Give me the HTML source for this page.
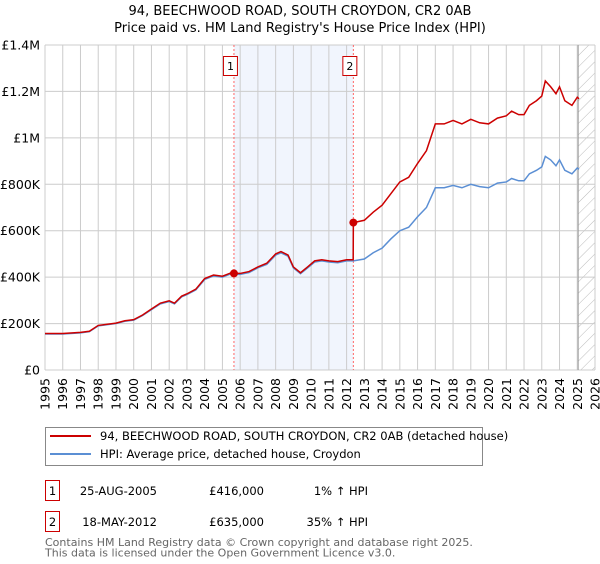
<!DOCTYPE html>
<html><head><meta charset="utf-8">
<style>
body{margin:0;background:#fff;font-family:"DejaVu Sans","Liberation Sans",sans-serif;}
svg text{font-family:"DejaVu Sans","Liberation Sans",sans-serif;}
</style></head>
<body>
<svg id="chart" width="600" height="560" xmlns="http://www.w3.org/2000/svg">
<defs>
<pattern id="hatch" patternUnits="userSpaceOnUse" width="8" height="8" patternTransform="rotate(45)">
<line x1="0" y1="0" x2="0" y2="8" stroke="#bbb" stroke-width="1"/>
</pattern>
</defs>
<text x="300" y="15" font-size="13" text-anchor="middle">94, BEECHWOOD ROAD, SOUTH CROYDON, CR2 0AB</text>
<text x="300" y="32" font-size="13" text-anchor="middle">Price paid vs. HM Land Registry's House Price Index (HPI)</text>
<g id="plot"></g>
<g>
<rect x="45.5" y="427.5" width="437" height="38" fill="#fff" stroke="#888"/>
<line x1="50" y1="436" x2="91" y2="436" stroke="#cc0000" stroke-width="2"/>
<text x="100" y="440" font-size="11.5">94, BEECHWOOD ROAD, SOUTH CROYDON, CR2 0AB (detached house)</text>
<line x1="50" y1="454" x2="91" y2="454" stroke="#5b8fd4" stroke-width="2"/>
<text x="100" y="458" font-size="11.5">HPI: Average price, detached house, Croydon</text>
</g>
<g font-size="11.5">
<rect x="45.5" y="480.5" width="14" height="20" fill="#fff" stroke="#cc0000"/>
<text x="52.5" y="495" text-anchor="middle">1</text>
<text x="157" y="495" text-anchor="end">25-AUG-2005</text>
<text x="264" y="495" text-anchor="end">£416,000</text>
<text x="368" y="495" text-anchor="end">1% ↑ HPI</text>
<rect x="45.5" y="511.5" width="14" height="20" fill="#fff" stroke="#cc0000"/>
<text x="52.5" y="526" text-anchor="middle">2</text>
<text x="157" y="526" text-anchor="end">18-MAY-2012</text>
<text x="264" y="526" text-anchor="end">£635,000</text>
<text x="368" y="526" text-anchor="end">35% ↑ HPI</text>
</g>
<text x="45" y="546" font-size="11" fill="#666">Contains HM Land Registry data © Crown copyright and database right 2025.</text>
<text x="45" y="556.5" font-size="11" fill="#666">This data is licensed under the Open Government Licence v3.0.</text>
</svg>
<script>
const hpiYears=[1995,1996,1997,1997.5,1998,1999,1999.5,2000,2000.5,2001,2001.5,2002,2002.3,2002.7,2003,2003.5,2004,2004.5,2005,2005.5,2005.65,2006,2006.5,2007,2007.5,2008,2008.3,2008.7,2009,2009.4,2009.8,2010.2,2010.6,2011,2011.5,2012,2012.38,2013,2013.5,2014,2014.5,2015,2015.5,2016,2016.5,2017,2017.5,2018,2018.5,2019,2019.5,2020,2020.5,2021,2021.3,2021.7,2022,2022.3,2022.7,2023,2023.2,2023.5,2023.8,2024,2024.3,2024.7,2025,2025.1];
const hpiValues=[155,155,160,165,190,200,210,215,235,260,285,295,285,315,325,345,390,405,400,415,412,412,420,440,455,495,505,490,440,415,440,465,470,465,462,470,470,478,505,525,565,600,615,660,700,785,785,795,785,800,790,785,805,810,825,815,815,845,860,875,920,905,880,905,860,845,870,865];
const priceYears=[1995,1996,1997,1997.5,1998,1999,1999.5,2000,2000.5,2001,2001.5,2002,2002.3,2002.7,2003,2003.5,2004,2004.5,2005,2005.5,2005.65,2006,2006.5,2007,2007.5,2008,2008.3,2008.7,2009,2009.4,2009.8,2010.2,2010.6,2011,2011.5,2012,2012.37,2012.38,2013,2013.5,2014,2014.5,2015,2015.5,2016,2016.5,2017,2017.5,2018,2018.5,2019,2019.5,2020,2020.5,2021,2021.3,2021.7,2022,2022.3,2022.7,2023,2023.2,2023.5,2023.8,2024,2024.3,2024.7,2025,2025.1];
const priceValues=[157,157,162,167,192,202,212,217,237,263,288,298,288,318,328,348,394,409,404,419,416,416,424,444,460,500,510,495,444,419,444,470,475,470,467,475,475,635,645,680,710,760,810,830,890,945,1060,1060,1075,1060,1080,1065,1060,1085,1095,1115,1100,1100,1140,1160,1180,1245,1220,1190,1220,1160,1140,1175,1168];
const saleYears=[2005.65,2012.38];
const saleValues=[416,635];
const saleLabels=["1","2"];
const yTicks=[0,200,400,600,800,1000,1200,1400];
const yTickLabels=["£0","£200K","£400K","£600K","£800K","£1M","£1.2M","£1.4M"];
const xTicks=[1995,1996,1997,1998,1999,2000,2001,2002,2003,2004,2005,2006,2007,2008,2009,2010,2011,2012,2013,2014,2015,2016,2017,2018,2019,2020,2021,2022,2023,2024,2025,2026];

const L=45,R=595,T=45,B=370,X0=1995,X1=2026,YMAX=1400;
const xs=v=>L+(v-X0)/(X1-X0)*(R-L);
const ys=v=>B-v/YMAX*(B-T);
const NS="http://www.w3.org/2000/svg";
const g=document.getElementById('plot');
function mk(tag,attrs,parent){const e=document.createElementNS(NS,tag);for(const k in attrs)e.setAttribute(k,attrs[k]);(parent||g).appendChild(e);return e;}

const shade=mk('rect',{x:xs(saleYears[0]),y:T,width:xs(saleYears[1])-xs(saleYears[0]),height:B-T,fill:'#eef2fc',opacity:0.8});


const hatch=mk('rect',{x:xs(2025.05),y:T,width:R-xs(2025.05),height:B-T,fill:'url(#hatch)'});



xTicks.forEach(t=>{
  const l=mk('line',{x1:xs(t),x2:xs(t),y1:T,y2:B,stroke:'#cccccc','stroke-width':1});
  
  
  const tx=mk('text',{x:0,y:0,'font-size':12.5,'text-anchor':'end',transform:`translate(${xs(t)+4.5},${B+8}) rotate(-90)`});
  tx.textContent=t;
  
  
});
yTicks.forEach((t,i)=>{
  const l=mk('line',{x1:L,x2:R,y1:ys(t),y2:ys(t),stroke:'#cccccc','stroke-width':1});
  
  
  const tx=mk('text',{x:L-5,y:ys(t)+4.5,'font-size':12.5,'text-anchor':'end'});
  tx.textContent=yTickLabels[i];
  
  
});
const edge=mk('line',{x1:xs(2025.05),x2:xs(2025.05),y1:T,y2:B,stroke:'#999','stroke-width':1});



saleYears.forEach((s,i)=>{
  const l=mk('line',{x1:xs(s),x2:xs(s),y1:T,y2:B,stroke:'#ff6666','stroke-width':1,'stroke-dasharray':'2,2'});
  
  
  const bx=mk('rect',{x:xs(s)-10.5,y:56.5,width:14,height:19,fill:'#fff',stroke:'#cc0000'});
  
  
  const t=mk('text',{x:xs(s)-3.5,y:70,'font-size':11,'text-anchor':'middle'});
  t.textContent=saleLabels[i];
  
  
});

const hp=mk('polyline',{points:hpiYears.map((y,i)=>xs(y)+','+ys(hpiValues[i])).join(' '),fill:'none',stroke:'#5b8fd4','stroke-width':1.5});


const pp=mk('polyline',{points:priceYears.map((y,i)=>xs(y)+','+ys(priceValues[i])).join(' '),fill:'none',stroke:'#cc0000','stroke-width':1.5});


saleYears.forEach((s,i)=>{
  const c=mk('circle',{cx:xs(s),cy:ys(saleValues[i]),r:4,fill:'#cc0000'});
  
  
});
</script>
</body></html>
